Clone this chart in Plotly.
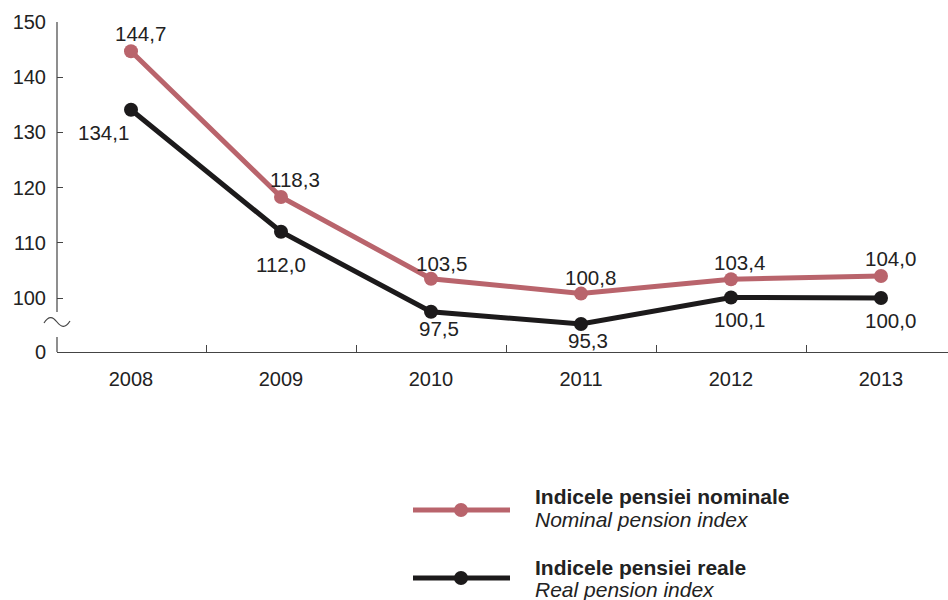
import plotly.graph_objects as go

years = ["2008", "2009", "2010", "2011", "2012", "2013"]
nominal = [144.7, 118.3, 103.5, 100.8, 103.4, 104.0]
real = [134.1, 112.0, 97.5, 95.3, 100.1, 100.0]
nominal_labels = ["144,7", "118,3", "103,5", "100,8", "103,4", "104,0"]
real_labels = ["134,1", "112,0", "97,5", "95,3", "100,1", "100,0"]
ytick_vals = [90.22, 100, 110, 120, 130, 140, 150]
ytick_text = ["0", "100", "110", "120", "130", "140", "150"]

name_nom_ro = "Indicele pensiei nominale"
name_nom_en = "Nominal pension index"
name_real_ro = "Indicele pensiei reale"
name_real_en = "Real pension index"

ROSE = "#b9646c"
BLACK = "#1c1a1b"
TEXT = "#222222"
AXIS = "#444444"
FONT = "Liberation Sans, Arial, Helvetica, sans-serif"

W, H = 948, 600
L, R, T, B = 57, 0, 22, 248
PW, PH = W - L - R, H - T - B


def px(x):
    return (x - L) / PW


def py(y):
    return (H - B - y) / PH


fig = go.Figure()
fig.add_trace(go.Scatter(x=years, y=nominal, mode="lines+markers",
                         line=dict(color=ROSE, width=5),
                         marker=dict(color=ROSE, size=14),
                         hoverinfo="skip", showlegend=False, cliponaxis=False))
fig.add_trace(go.Scatter(x=years, y=real, mode="lines+markers",
                         line=dict(color=BLACK, width=5),
                         marker=dict(color=BLACK, size=14),
                         hoverinfo="skip", showlegend=False, cliponaxis=False))

nom_off = [(9, 18), (14, 17), (10, 15), (9, 16), (8, 17), (9, 17)]
real_off = [(-28, -23), (0, -33), (8, -17), (7, -17), (8, -22), (9, -22)]
ann = []
for i in range(len(years)):
    ann.append(dict(xref="x", yref="y", x=i, y=nominal[i], text=nominal_labels[i],
                    showarrow=False,
                    xshift=nom_off[i][0], yshift=nom_off[i][1],
                    font=dict(size=20.5, color=TEXT, family=FONT)))
    ann.append(dict(xref="x", yref="y", x=i, y=real[i], text=real_labels[i],
                    showarrow=False,
                    xshift=real_off[i][0], yshift=real_off[i][1],
                    font=dict(size=20.5, color=TEXT, family=FONT)))

# legend text
for txt, yy, bold in [(name_nom_ro, 496, True), (name_nom_en, 519, False),
                      (name_real_ro, 567, True), (name_real_en, 589, False)]:
    t = f"<b>{txt}</b>" if bold else f"<i>{txt}</i>"
    ann.append(dict(xref="paper", yref="paper", x=px(533), y=py(yy), text=t,
                    showarrow=False, xanchor="left", yanchor="middle",
                    font=dict(size=21, color=TEXT, family=FONT)))

shapes = []
# broken y axis
shapes.append(dict(type="line", xref="paper", yref="paper", x0=0, x1=0,
                   y0=py(312), y1=1, line=dict(color=AXIS, width=1.2)))
shapes.append(dict(type="line", xref="paper", yref="paper", x0=0, x1=0,
                   y0=0, y1=py(337), line=dict(color=AXIS, width=1.2)))
shapes.append(dict(type="path", xref="paper", yref="paper",
                   xsizemode="pixel", ysizemode="pixel",
                   xanchor=0, yanchor=py(322),
                   path="M -13,-1 C -8,7 -4,5 0,0 C 4,-5 8,-7 13,1",
                   line=dict(color=AXIS, width=1.2)))
# legend symbols
for yy, col in [(510, ROSE), (578, BLACK)]:
    shapes.append(dict(type="line", xref="paper", yref="paper",
                       x0=px(413), x1=px(510), y0=py(yy), y1=py(yy),
                       line=dict(color=col, width=5)))
    shapes.append(dict(type="circle", xref="paper", yref="paper",
                       xsizemode="pixel", ysizemode="pixel",
                       xanchor=px(461), yanchor=py(yy),
                       x0=-7, x1=7, y0=-7, y1=7,
                       fillcolor=col, line=dict(color=col, width=0)))

fig.update_layout(
    width=W, height=H,
    margin=dict(l=L, r=R, t=T, b=B),
    paper_bgcolor="white", plot_bgcolor="white",
    font=dict(family=FONT, color=TEXT),
    annotations=ann, shapes=shapes,
    xaxis=dict(type="category", range=[-0.4933, 5.4467],
               showgrid=False, zeroline=False,
               showline=True, linecolor=AXIS, linewidth=1.2,
               ticks="inside", tickson="boundaries", ticklen=7,
               tickcolor=AXIS, tickwidth=1,
               tickfont=dict(size=20, color=TEXT, family=FONT),
               ticklabelstandoff=9),
    yaxis=dict(range=[90.22, 150], showgrid=False, zeroline=False,
               showline=False, tickvals=ytick_vals, ticktext=ytick_text,
               ticks="inside", ticklen=6, tickcolor=AXIS, tickwidth=1,
               tickfont=dict(size=20, color=TEXT, family=FONT),
               ticklabelstandoff=10),
)

fig.write_html("out.html", config={"displayModeBar": False},
               post_script="document.body.style.margin='0';document.body.style.overflow='hidden';")
